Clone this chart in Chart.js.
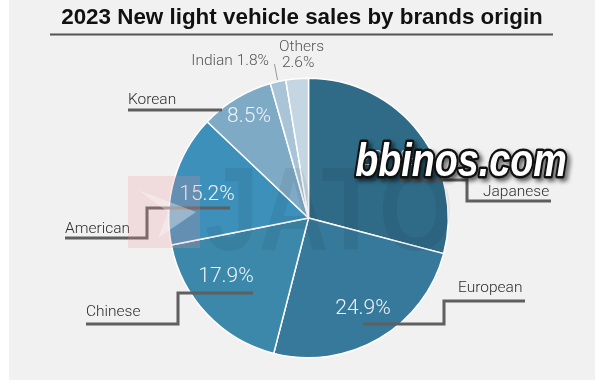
<!DOCTYPE html>
<html>
<head>
<meta charset="utf-8">
<script src="https://cdn.jsdelivr.net/npm/chart.js@4"></script>
<style>
  html, body { margin: 0; padding: 0; background: #fff; }
  #wrap { width: 600px; height: 385px; position: relative; }
</style>
</head>
<body>
<div id="wrap"><canvas id="mycanvas"></canvas></div>
<script>
// data
var chartTitle = '2023 New light vehicle sales by brands origin';
var brands = ['Japanese', 'European', 'Chinese', 'American', 'Korean', 'Indian', 'Others'];
var shares = [29.1, 24.9, 17.9, 15.2, 8.5, 1.8, 2.6];
var sliceColors = ['#2f6b87', '#37799a', '#3c88ab', '#3d90ba', '#7eaac5', '#a8c4d6', '#c3d6e2'];

// where the labels sit (pct = value inside slice, name = category text, line = leader)
var labelPos = {
  Japanese: { pct: [388, 160], name: [483, 192], line: [[400, 180], [467, 180], [467, 201], [551, 201]] },
  European: { pct: [363, 309], name: [458, 288], line: [[525, 301], [444, 301], [444, 324], [363, 324]] },
  Chinese:  { pct: [226, 277], name: [86, 312],  line: [[86, 324], [178, 324], [178, 293], [253, 293]] },
  American: { pct: [207, 195], name: [65, 229],  line: [[65, 238], [147, 238], [147, 208], [230, 208]] },
  Korean:   { pct: [249, 117], name: [128, 100], line: [[128, 110], [222, 110]] }
};

var extras = {
  id: 'extras',
  beforeDraw: function(chart) {
    var c = chart.ctx;
    c.save();
    c.fillStyle = '#fff';
    c.fillRect(0, 0, chart.width, chart.height);
    c.fillStyle = '#f1f1f1';
    c.fillRect(9, 0, 586, 380);
    // title + rule
    c.fillStyle = '#111';
    c.font = 'bold 22.4px "Liberation Sans"';
    c.textAlign = 'center';
    c.textBaseline = 'middle';
    c.fillText(chartTitle, 302, 18);
    c.strokeStyle = '#555';
    c.lineWidth = 2;
    c.beginPath();
    c.moveTo(50, 34.5);
    c.lineTo(553, 34.5);
    c.stroke();
    c.restore();
  },
  afterDatasetsDraw: function(chart) {
    var c = chart.ctx;
    var vals = chart.data.datasets[0].data;
    c.save();

    // leader lines
    c.strokeStyle = '#5f5f5f';
    c.lineWidth = 3;
    c.lineJoin = 'miter';
    brands.forEach(function(b) {
      var p = labelPos[b];
      if (!p) return;
      c.beginPath();
      p.line.forEach(function(pt, i) {
        if (i == 0) c.moveTo(pt[0], pt[1]); else c.lineTo(pt[0], pt[1]);
      });
      c.stroke();
    });
    // small leader for Indian / Others
    c.strokeStyle = '#9a9a9a';
    c.lineWidth = 1;
    c.beginPath();
    c.moveTo(274.5, 64);
    c.lineTo(277.5, 80);
    c.stroke();

    // values inside slices
    c.font = '300 21px Roboto';
    c.fillStyle = '#eef3f6';
    c.textAlign = 'center';
    c.textBaseline = 'middle';
    brands.forEach(function(b, i) {
      var p = labelPos[b];
      if (!p) return;
      c.fillText(vals[i].toFixed(1) + '%', p.pct[0], p.pct[1]);
    });

    // category names
    c.font = '300 15.5px Roboto';
    c.fillStyle = '#2e2e2e';
    c.textAlign = 'left';
    brands.forEach(function(b) {
      var p = labelPos[b];
      if (!p) return;
      c.fillText(b, p.name[0], p.name[1]);
    });
    c.fillStyle = '#555';
    c.textAlign = 'right';
    c.fillText('Indian ' + vals[5].toFixed(1) + '%', 269, 61);
    c.textAlign = 'left';
    c.fillText('Others', 279, 47);
    c.fillText(vals[6].toFixed(1) + '%', 282, 63);

    // JATO watermark
    c.fillStyle = 'rgba(235,140,150,0.22)';
    c.fillRect(128, 176, 72, 72);
    c.fillStyle = 'rgba(255,255,255,0.35)';
    c.beginPath();
    c.moveTo(138, 190); c.lineTo(196, 212); c.lineTo(158, 238); c.lineTo(168, 212);
    c.closePath();
    c.fill();
    c.save();
    c.translate(205, 250);
    c.scale(0.82, 1);
    c.font = 'bold 118px "Liberation Sans"';
    c.fillStyle = 'rgba(0,0,0,0.06)';
    c.textAlign = 'left';
    c.textBaseline = 'alphabetic';
    c.fillText('JATO', 0, 0);
    c.restore();

    // bbinos.com stamp
    c.save();
    c.translate(461, 176);
    c.scale(0.82, 1);
    c.font = 'italic bold 46px "Liberation Sans"';
    c.textAlign = 'center';
    c.textBaseline = 'alphabetic';
    c.lineJoin = 'round';
    c.shadowColor = 'rgba(0,0,0,0.6)';
    c.shadowOffsetX = 3;
    c.shadowOffsetY = 3;
    c.shadowBlur = 4;
    c.strokeStyle = '#111';
    c.lineWidth = 5;
    c.strokeText('bbinos.com', 0, 0);
    c.shadowColor = 'transparent';
    c.fillStyle = '#fff';
    c.fillText('bbinos.com', 0, 0);
    c.restore();

    c.restore();
  }
};

var ctx = document.getElementById('mycanvas');
var pieChart = new Chart(ctx, {
  type: 'pie',
  data: {
    labels: brands,
    datasets: [{
      data: shares,
      backgroundColor: sliceColors,
      borderColor: '#ffffff',
      borderWidth: 1.5
    }]
  },
  options: {
    responsive: true,
    maintainAspectRatio: false,
    animation: false,
    layout: { padding: { top: 77, bottom: 26, left: 168, right: 151 } },
    plugins: {
      legend: { display: false },
      tooltip: { enabled: false },
      title: { display: false }
    }
  },
  plugins: [extras]
});
</script>
</body>
</html>
